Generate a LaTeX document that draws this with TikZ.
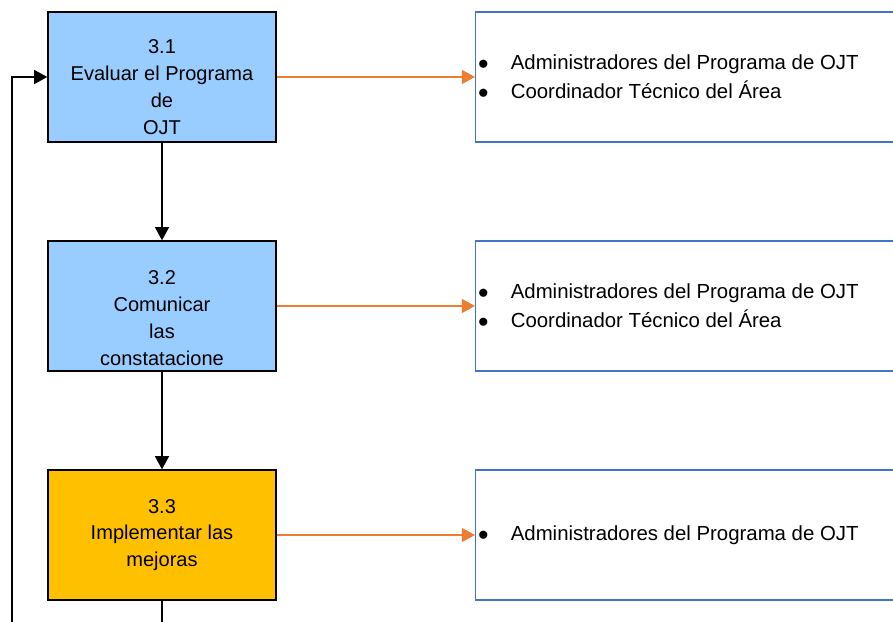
\documentclass[tikz,border=0pt]{standalone}
\usepackage{fontspec}
\setmainfont{Liberation Sans}
\usepackage{tikz}
\usetikzlibrary{arrows.meta,positioning,calc}
\definecolor{boxblue}{RGB}{153,204,255}
\definecolor{boxorange}{RGB}{255,192,0}
\definecolor{lineorange}{RGB}{237,125,49}
\definecolor{listblue}{RGB}{68,114,196}

\tikzset{
  stepbox/.style={draw=black, line width=0.8pt, rectangle, minimum width=4.56cm, minimum height=2.6cm},
  steptext/.style={align=center, font=\fontsize{11.4}{15.3}\selectfont},
  listbox/.style={draw=listblue, line width=0.8pt, rectangle, minimum width=9cm, minimum height=2.6cm, anchor=west},
  listtext/.style={anchor=west, align=left, font=\fontsize{11.6}{16.4}\selectfont},
  flow/.style={draw=black, line width=0.8pt, -{Triangle[width=8pt,length=7.5pt]}},
  owner/.style={draw=lineorange, line width=0.8pt, -{Triangle[width=8pt,length=7.5pt]}}
}
\newcommand{\bulletitem}{\makebox[1.6em][l]{$\bullet$}}

\begin{document}
\begin{tikzpicture}
\clip (0,0) rectangle (17.86,-12.44);

% pasos
\node [stepbox, fill=boxblue] (s1) at (3.24,-1.54) {};
\node [stepbox, fill=boxblue] (s2) at (3.24,-6.12) {};
\node [stepbox, fill=boxorange] (s3) at (3.24,-10.7) {};
\node [steptext] (s1t) at ($(s1.center)+(0,-0.2)$) {3.1\\Evaluar el Programa\\de\\OJT};
\node [steptext] (s2t) at ($(s2.center)+(0,-0.24)$) {3.2\\Comunicar\\las\\constatacione};
\node [steptext] (s3t) at (s3.center) {3.3\\Implementar las\\mejoras};

% responsables
\node [listbox] (r1) at (9.5,-1.54) {};
\node [listbox] (r2) at (9.5,-6.12) {};
\node [listbox] (r3) at (9.5,-10.7) {};

\node [listtext] (t1) at ($(r1.west)+(-0.06,0)$) {\bulletitem Administradores del Programa de OJT\\\bulletitem Coordinador Técnico del Área};
\node [listtext] (t2) at ($(r2.west)+(-0.06,0)$) {\bulletitem Administradores del Programa de OJT\\\bulletitem Coordinador Técnico del Área};
\node [listtext] (t3) at ($(r3.west)+(-0.06,0)$) {\bulletitem Administradores del Programa de OJT};

% flechas
\draw [flow] (s1) -- (s2);
\draw [flow] (s2) -- (s3);
\coordinate (down) at (3.24,-12.6);
\draw [draw=black, line width=0.8pt] (s3.south) -- (down);
\coordinate (back) at (0.24,-12.6);
\draw [flow] (back) |- (s1.west);

\draw [owner] (s1) -- (r1);
\draw [owner] (s2) -- (r2);
\draw [owner] (s3) -- (r3);

\end{tikzpicture}
\end{document}
